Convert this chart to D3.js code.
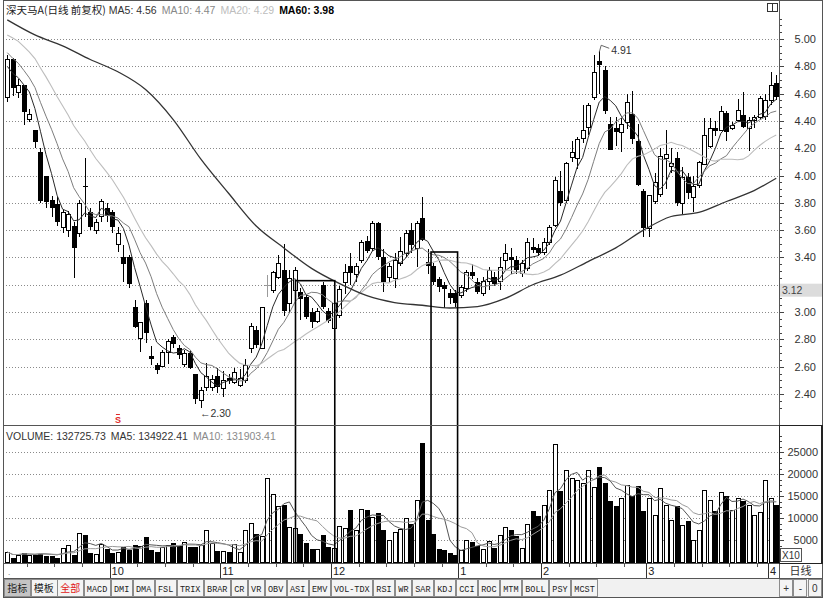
<!DOCTYPE html>
<html><head><meta charset="utf-8">
<script src="https://cdn.jsdelivr.net/npm/d3@7/dist/d3.min.js"></script>
<style>body{margin:0;background:#fff}svg{display:block}</style>
</head><body><svg id="c" width="825" height="598"></svg>
<script>
// ---------- DATA ----------
const opens = [4.57,4.85,4.61,4.66,4.41,4.33,4.17,4.00,3.82,3.79,
 3.62,3.60,3.63,3.58,3.92,3.73,3.60,3.70,3.76,3.73,
 3.50,3.40,3.40,3.04,2.81,3.07,2.68,2.61,2.61,2.71,
 2.82,2.74,2.62,2.70,2.55,2.36,2.45,2.45,2.53,2.44,
 2.52,2.49,2.47,2.50,2.74,2.87,2.74,3.20,3.16,3.26,
 3.31,3.07,3.16,3.15,3.11,3.00,2.94,3.20,3.01,2.89,
 2.98,3.22,3.34,3.28,3.38,3.52,3.47,3.65,3.40,3.26,
 3.25,3.36,3.43,3.60,3.47,3.69,3.37,3.34,3.24,3.20,
 3.14,3.14,3.12,3.17,3.29,3.22,3.14,3.23,3.26,3.23,
 3.38,3.40,3.38,3.29,3.32,3.48,3.47,3.44,3.51,3.64,
 3.89,3.82,4.13,4.13,4.27,4.36,4.58,4.84,4.77,4.38,
 4.35,4.32,4.39,4.45,4.25,3.89,3.62,3.81,3.86,4.13,
 4.07,4.13,3.80,3.99,3.84,3.93,4.09,4.22,4.35,4.33,
 4.46,4.35,4.41,4.44,4.35,4.41,4.43,4.43,4.55,4.68];
const highs = [4.88,4.86,4.71,4.66,4.49,4.33,4.20,4.00,3.85,3.84,
 3.75,3.74,3.66,3.82,4.13,3.76,3.68,3.83,3.80,3.75,
 3.62,3.49,3.42,3.09,2.93,3.09,2.75,2.63,2.72,2.80,
 2.83,2.76,2.72,2.72,2.55,2.45,2.63,2.54,2.59,2.57,
 2.55,2.59,2.58,2.66,2.92,2.90,3.04,3.27,3.30,3.42,
 3.50,3.31,3.33,3.18,3.13,3.03,3.03,3.22,3.03,3.08,
 3.19,3.35,3.43,3.36,3.53,3.56,3.67,3.66,3.46,3.36,
 3.43,3.55,3.60,3.65,3.67,3.84,3.46,3.36,3.26,3.22,
 3.17,3.16,3.20,3.31,3.35,3.25,3.26,3.33,3.29,3.40,
 3.50,3.47,3.41,3.38,3.54,3.54,3.50,3.54,3.64,3.99,
 4.03,4.10,4.25,4.28,4.52,4.53,4.88,4.91,4.80,4.43,
 4.43,4.42,4.60,4.62,4.38,3.90,3.86,4.02,4.20,4.33,
 4.20,4.17,4.06,4.02,4.00,4.11,4.42,4.42,4.40,4.51,
 4.47,4.39,4.56,4.61,4.43,4.44,4.58,4.60,4.76,4.74];
const lows = [4.54,4.58,4.57,4.37,4.39,4.20,3.80,3.76,3.70,3.63,
 3.58,3.55,3.25,3.55,3.70,3.60,3.57,3.66,3.66,3.58,
 3.44,3.22,3.18,2.88,2.71,2.77,2.61,2.55,2.60,2.62,
 2.74,2.66,2.60,2.58,2.33,2.30,2.42,2.42,2.41,2.38,
 2.47,2.47,2.45,2.48,2.70,2.74,2.73,3.11,3.14,3.24,
 2.97,2.99,3.05,2.94,2.95,2.88,2.92,3.02,2.92,2.88,
 2.96,3.13,3.20,3.22,3.36,3.43,3.45,3.38,3.15,3.22,
 3.18,3.34,3.40,3.43,3.33,3.52,3.28,3.20,3.15,3.03,
 3.06,3.04,3.10,3.15,3.24,3.13,3.12,3.16,3.19,3.16,
 3.30,3.28,3.28,3.26,3.30,3.43,3.41,3.42,3.49,3.62,
 3.78,3.80,4.10,4.05,4.24,4.30,4.55,4.60,4.45,4.19,
 4.22,4.17,4.34,4.23,3.92,3.55,3.55,3.79,3.84,3.90,
 4.02,3.78,3.72,3.83,3.73,3.91,4.08,4.20,4.29,4.33,
 4.25,4.33,4.40,4.35,4.18,4.35,4.41,4.41,4.52,4.55];
const closes = [4.85,4.64,4.66,4.46,4.45,4.24,3.81,3.81,3.76,3.66,
 3.73,3.72,3.47,3.80,3.91,3.62,3.66,3.81,3.70,3.62,
 3.58,3.35,3.20,2.89,2.93,2.85,2.66,2.57,2.71,2.79,
 2.77,2.69,2.70,2.59,2.37,2.43,2.53,2.51,2.45,2.50,
 2.50,2.56,2.52,2.61,2.90,2.76,3.04,3.20,3.29,3.36,
 3.01,3.25,3.31,3.10,2.96,2.93,3.01,3.04,2.94,3.07,
 3.17,3.29,3.29,3.34,3.51,3.45,3.65,3.40,3.22,3.34,
 3.38,3.45,3.58,3.49,3.65,3.53,3.34,3.22,3.18,3.17,
 3.10,3.07,3.18,3.29,3.26,3.15,3.23,3.31,3.21,3.33,
 3.43,3.38,3.31,3.36,3.51,3.46,3.43,3.51,3.62,3.97,
 3.80,4.09,4.17,4.27,4.33,4.52,4.76,4.81,4.47,4.19,
 4.32,4.38,4.54,4.27,3.93,3.62,3.86,3.95,4.14,4.16,
 4.09,3.80,3.99,3.87,3.92,4.10,4.30,4.35,4.33,4.47,
 4.32,4.37,4.48,4.35,4.41,4.43,4.57,4.55,4.66,4.58];
// closes before the first visible day (used only to warm up MA5/10/20)
const priorCloses = [5.10,5.15,5.22,5.25,5.20,5.18,5.12,5.16,5.14,5.08,
 5.06,5.02,4.98,5.00,4.94,4.90,4.82,4.72,4.71];
// volume, in axis units (x10 shares)
const volumes = [2270,1140,1670,2270,1670,1820,1970,1520,1670,1140,
 3180,3790,1890,6670,6290,2270,1740,4090,3180,2270,
 2270,3640,3030,4020,3560,5830,3030,2500,3410,3790,
 4550,3790,4550,3640,3640,3940,7350,4390,2650,2500,
 2500,4090,2270,7200,8940,6670,5910,19090,15380,12730,
 13100,7950,7800,6670,4550,3260,2880,6290,3640,3260,
 8110,7800,11970,7350,11970,11970,10230,11360,7420,5080,
 6820,7580,10000,8940,14170,27270,9700,6590,3260,3030,
 2270,1890,2650,5080,4770,3940,3030,4770,3410,6060,
 7950,7580,6210,3260,8710,11800,10700,13000,16400,26800,
 16400,20900,19100,18600,18000,20900,17000,21800,18200,14100,
 13000,14500,17500,15200,17500,11800,14500,10700,16800,13000,
 9500,13000,8400,9500,5000,7300,16400,14100,11800,15900,
 15200,11800,14500,14100,13000,10700,11400,18600,14500,13273];
// MA60 at these day indices
const ma60Idx  = [0,5,10,15,20,25,30,35,40,45,50,55,60,65,70,75,80,85,90,95,100,105,110,115,120,125,130,135,139];
const ma60Vals = [5.14,5.03,4.95,4.85,4.76,4.63,4.41,4.12,3.87,3.63,3.47,3.32,3.21,3.12,3.07,3.05,3.03,3.04,3.10,3.20,3.27,3.37,3.47,3.60,3.70,3.73,3.81,3.89,3.98];
const priceTicks = [2.40,2.60,2.80,3.00,3.20,3.40,3.60,3.80,4.00,4.20,4.40,4.60,4.80,5.00];
const priceLabelTicks = [2.40,2.60,2.80,3.00,3.40,3.60,3.80,4.00,4.20,4.40,4.60,4.80,5.00];
const volTicks = [5000,10000,15000,20000,25000];
const monthLabels = ["10","11","12","1","2","3","4"];
const monthStarts = [19,39,59,82,97,116,138];
const headerTitle = "深天马A(日线 前复权)";
const headerMA = [["MA5",4.56],["MA10",4.47],["MA20",4.29],["MA60",3.98]];
const volHeader = [["VOLUME",132725.73],["MA5",134922.41],["MA10",131903.41]];
const currentPrice = 3.12;
const signalIdx = 20;
const boxFrom = [52.1, 76.6], boxTo = [59.2, 81.4], boxTop = [3.23, 3.44];
const tabs = ["指标","模板","全部","MACD","DMI","DMA","FSL","TRIX","BRAR","CR","VR","OBV","ASI","EMV","VOL-TDX","RSI","WR","SAR","KDJ","CCI","ROC","MTM","BOLL","PSY","MCST"];

// ---------- LAYOUT ----------
const FONT = "'Liberation Sans', Arial, sans-serif";
const CJK = "'Noto Sans CJK SC', sans-serif";
const n = closes.length;
const PL = 4, PR = 779, PT = 1, PB = 425, VB = 563, XB = 578, TB = 597, AR = 822;
const xl = d3.scaleLinear().domain([-0.5, n - 0.5]).range([4.5, PR]);
const y = d3.scaleLinear().domain([2.40, 5.00]).range([394, 39]);
const yv = d3.scaleLinear().domain([0, 25000]).range([562, 452]);

const svg = d3.select('#c');
svg.append('rect').attr('width', 825).attr('height', 598).attr('fill', '#fff');
const defs = svg.append('defs');
defs.append('clipPath').attr('id', 'cp').append('rect').attr('x', PL + 1).attr('y', PT + 1).attr('width', PR - PL - 1).attr('height', PB - PT - 1);
defs.append('clipPath').attr('id', 'cv').append('rect').attr('x', PL + 1).attr('y', PB + 1).attr('width', PR - PL - 1).attr('height', VB - PB - 1);

// gridlines
const grid = svg.append('g').attr('stroke', '#8a8a8a').attr('stroke-dasharray', '1,2').attr('shape-rendering', 'crispEdges');
grid.selectAll('line.p').data(priceTicks).join('line').attr('class', 'p')
  .attr('x1', PL + 2).attr('x2', PR).attr('y1', d => Math.round(y(d)) + 0.5).attr('y2', d => Math.round(y(d)) + 0.5);
grid.selectAll('line.v').data(volTicks).join('line').attr('class', 'v')
  .attr('x1', PL + 2).attr('x2', PR).attr('y1', d => Math.round(yv(d)) + 0.5).attr('y2', d => Math.round(yv(d)) + 0.5);

// candles
const idx = d3.range(n);
const up = i => closes[i] > opens[i];
const flat = i => closes[i] === opens[i];
const px = i => Math.round(xl(i));
const gC = svg.append('g').attr('clip-path', 'url(#cp)').attr('shape-rendering', 'crispEdges');
const cg = gC.selectAll('g').data(idx).join('g');
cg.append('line').attr('x1', i => px(i) + 0.5).attr('x2', i => px(i) + 0.5)
  .attr('y1', i => y(highs[i])).attr('y2', i => y(lows[i]))
  .attr('stroke', i => flat(i) ? '#9a9a9a' : '#000');
cg.append('rect')
  .attr('x', i => up(i) ? px(i) - 1.5 : px(i) - 2)
  .attr('width', i => up(i) ? 4 : 5)
  .attr('y', i => Math.round(y(Math.max(opens[i], closes[i]))) + (up(i) ? 0.5 : 0))
  .attr('height', i => Math.max(1, Math.round(Math.abs(y(opens[i]) - y(closes[i])))))
  .attr('fill', i => flat(i) ? '#9a9a9a' : (up(i) ? '#fff' : '#000'))
  .attr('stroke', i => up(i) ? '#000' : 'none');

// moving averages
const allC = priorCloses.concat(closes);
const P = priorCloses.length;
const maOf = (arr, off, k, i) => d3.mean(arr.slice(Math.max(0, off + i - k + 1), off + i + 1));
const lineP = d3.line().x(d => xl(d[0])).y(d => y(d[1]));
const gM = svg.append('g').attr('clip-path', 'url(#cp)').attr('fill', 'none');
[[5, '#2a2a2a', 1], [10, '#7d7d7d', 1], [20, '#bdbdbd', 1.1]].forEach(([k, col, w]) => {
  gM.append('path').attr('d', lineP(idx.map(i => [i, maOf(allC, P, k, i)])))
    .attr('stroke', col).attr('stroke-width', w);
});
gM.append('path').attr('d', lineP.curve(d3.curveMonotoneX)(ma60Idx.map((d, j) => [d, ma60Vals[j]])))
  .attr('stroke', '#333').attr('stroke-width', 1.3);

// volume bars
const gV = svg.append('g').attr('clip-path', 'url(#cv)').attr('shape-rendering', 'crispEdges');
gV.selectAll('rect').data(idx).join('rect')
  .attr('x', i => closes[i] >= opens[i] ? px(i) - 1.5 : px(i) - 2)
  .attr('width', i => closes[i] >= opens[i] ? 4 : 5)
  .attr('y', i => Math.round(yv(volumes[i])) + 0.5)
  .attr('height', i => Math.max(1, yv(0) - Math.round(yv(volumes[i]))))
  .attr('fill', i => closes[i] >= opens[i] ? '#fff' : '#000')
  .attr('stroke', i => closes[i] >= opens[i] ? '#000' : 'none');
const lineV = d3.line().x(d => xl(d[0])).y(d => yv(d[1]));
const gVM = svg.append('g').attr('clip-path', 'url(#cv)').attr('fill', 'none');
[[5, '#555', 1], [10, '#9a9a9a', 1]].forEach(([k, col, w]) => {
  gVM.append('path').attr('d', lineV(idx.map(i => [i, maOf(volumes, 0, k, i)])))
    .attr('stroke', col).attr('stroke-width', w);
});

// annotation boxes
svg.append('g').attr('fill', 'none').attr('stroke', '#000').attr('stroke-width', 1.6)
  .selectAll('rect').data(boxFrom).join('rect')
  .attr('x', (d, j) => xl(d)).attr('width', (d, j) => xl(boxTo[j]) - xl(d))
  .attr('y', (d, j) => y(boxTop[j])).attr('height', (d, j) => VB - y(boxTop[j]));

// high / low notes
const hi = d3.maxIndex(highs), lo = d3.minIndex(lows);
const hx = xl(hi), hy = y(highs[hi]);
svg.append('path').attr('d', `M${hx},${hy + 1}L${hx + 2},${hy - 6}L${hx + 10},${hy - 3}`)
  .attr('fill', 'none').attr('stroke', '#555').attr('stroke-width', 0.9);
svg.append('text').attr('x', hx + 12).attr('y', hy + 3).attr('font-family', FONT).attr('font-size', 10.5)
  .attr('fill', '#333').text(d3.format('.2f')(highs[hi]));
svg.append('text').attr('x', xl(lo) - 1).attr('y', y(lows[lo]) + 9).attr('font-family', FONT).attr('font-size', 10.5)
  .attr('fill', '#333').text('←' + d3.format('.2f')(lows[lo]));
// signal mark
svg.append('text').attr('x', xl(signalIdx)).attr('y', 423).attr('text-anchor', 'middle')
  .attr('font-family', FONT).attr('font-size', 9).attr('font-weight', 'bold').attr('fill', '#e02828').text('S');
svg.append('line').attr('x1', xl(signalIdx) - 2).attr('x2', xl(signalIdx) + 2).attr('y1', 414.5).attr('y2', 414.5)
  .attr('stroke', '#e02828');

// header
const hdr = svg.append('text').attr('x', 6).attr('y', 14).attr('font-family', FONT).attr('font-size', 10.5);
hdr.append('tspan').attr('font-family', CJK).attr('fill', '#222').text(headerTitle);
const maCols = ['#333', '#888', '#bdbdbd', '#000'];
headerMA.forEach(([k, v], j) => {
  hdr.append('tspan').attr('dx', j === 0 ? 3 : 5).attr('fill', maCols[j])
    .attr('font-weight', j === 3 ? 'bold' : 'normal').text(`${k}: ${d3.format('.2f')(v)}`);
});
const vh = svg.append('text').attr('x', 6).attr('y', 440).attr('font-family', FONT).attr('font-size', 10.5);
volHeader.forEach(([k, v], j) => {
  vh.append('tspan').attr('dx', j === 0 ? 0 : 5).attr('fill', j === 2 ? '#8a8a8a' : '#333')
    .text(`${k}: ${d3.format('.2f')(v)}`);
});

// right axis: labels + ticks
const axText = g => g.call(s => s.select('.domain').remove()).selectAll('text')
  .attr('font-family', FONT).attr('font-size', 11).attr('fill', '#333');
svg.append('g').attr('transform', 'translate(816,0)')
  .call(d3.axisLeft(y).tickValues(priceLabelTicks).tickFormat(d3.format('.2f')).tickSize(0).tickPadding(0)).call(axText);
svg.append('g').attr('transform', 'translate(818,0)')
  .call(d3.axisLeft(yv).tickValues(volTicks).tickFormat(d3.format('d')).tickSize(0).tickPadding(0)).call(axText);
const tickG = (scale, vals, size) => svg.append('g').attr('transform', `translate(${PR},0)`).attr('shape-rendering', 'crispEdges')
  .call(d3.axisRight(scale).tickValues(vals).tickSize(size).tickFormat(''))
  .call(g => { g.select('.domain').remove(); g.selectAll('line').attr('stroke', '#444'); });
tickG(y, priceTicks, 5);
tickG(y, d3.range(2.30, 5.16, 0.05).filter(v => Math.abs(Math.round(v * 5) - v * 5) > 0.01), 3);
tickG(yv, volTicks, 5);
tickG(yv, d3.range(1250, 30000, 1250).filter(v => v % 5000 !== 0), 3);

// current price marker
svg.append('rect').attr('x', PR + 1).attr('y', y(currentPrice) - 12).attr('width', AR - PR - 1).attr('height', 13).attr('fill', '#dcdcdc');
svg.append('text').attr('x', PR + 3).attr('y', y(currentPrice) - 2).attr('font-family', FONT).attr('font-size', 10.5).attr('fill', '#444').text(d3.format('.2f')(currentPrice));
// X10
svg.append('rect').attr('x', PR + 1.5).attr('y', 548.5).attr('width', 21).attr('height', 13).attr('fill', '#fff').attr('stroke', '#555');
svg.append('text').attr('x', PR + 3).attr('y', 559).attr('font-family', FONT).attr('font-size', 10).attr('fill', '#333').text('X10');
// top-right icon
svg.append('rect').attr('x', 767.5).attr('y', 3.5).attr('width', 10).attr('height', 8).attr('fill', '#fff').attr('stroke', '#333');
svg.append('line').attr('x1', 772.5).attr('x2', 772.5).attr('y1', 3.5).attr('y2', 11.5).attr('stroke', '#333');

// frame
const fr = svg.append('g').attr('stroke', '#555').attr('shape-rendering', 'crispEdges').attr('fill', 'none');
fr.append('rect').attr('x', PL - 0.5).attr('y', 0.5).attr('width', AR - PL + 0.5).attr('height', TB - 0.5);
fr.append('line').attr('x1', PR + 0.5).attr('x2', PR + 0.5).attr('y1', 0).attr('y2', TB);
[PB, VB, XB].forEach(v => fr.append('line').attr('x1', PL).attr('x2', AR).attr('y1', v + 0.5).attr('y2', v + 0.5));
fr.append('rect').attr('x', PR + 0.5).attr('y', PB + 0.5).attr('width', AR - PR - 0.5).attr('height', VB - PB).attr('stroke', '#222').attr('stroke-width', 1.2);

// x axis row
const xr = svg.append('g').attr('shape-rendering', 'crispEdges');
xr.selectAll('line.m').data(monthStarts).join('line').attr('class', 'm')
  .attr('x1', d => Math.round(xl(d - 0.5)) + 0.5).attr('x2', d => Math.round(xl(d - 0.5)) + 0.5)
  .attr('y1', VB).attr('y2', XB).attr('stroke', '#333');
const weekTicks = [];
monthStarts.forEach((s, k) => { const e = k + 1 < monthStarts.length ? monthStarts[k + 1] : n; for (let j = s + 5; j < e - 1; j += 5) weekTicks.push(j); });
const firstWeeks = []; for (let j = monthStarts[0] - 5; j > 0; j -= 5) firstWeeks.push(j);
xr.selectAll('line.w').data(weekTicks.concat(firstWeeks)).join('line').attr('class', 'w')
  .attr('x1', d => Math.round(xl(d - 0.5)) + 0.5).attr('x2', d => Math.round(xl(d - 0.5)) + 0.5)
  .attr('y1', VB).attr('y2', VB + 4).attr('stroke', '#555');
xr.selectAll('text').data(monthLabels).join('text')
  .attr('x', (d, k) => xl(monthStarts[k] - 0.5) + 2).attr('y', 575)
  .attr('font-family', FONT).attr('font-size', 11).attr('fill', '#222').text(d => d);
svg.append('text').attr('x', 8).attr('y', 575).attr('font-size', 9).attr('fill', '#666').text('.');
svg.append('text').attr('x', (PR + AR) / 2).attr('y', 575).attr('text-anchor', 'middle').attr('font-family', CJK)
  .attr('font-size', 11).attr('fill', '#333').text('日线');

// tabs row
const tr = svg.append('g');
tr.append('rect').attr('x', PL).attr('y', XB + 1).attr('width', AR - PL).attr('height', TB - XB - 1).attr('fill', '#f1f1f1');
let tx = PL;
const isCJK = s => /[\u4e00-\u9fff]/.test(s);
tabs.forEach((t, j) => {
  const w = isCJK(t) ? 26.5 : t.length * 5.1 + 6.7;
  tr.append('rect').attr('x', Math.round(tx) + 0.5).attr('y', XB + 1.5).attr('width', Math.round(w) - 1).attr('height', TB - XB - 2.5)
    .attr('fill', j === 0 ? '#c4c4c4' : '#f4f4f4').attr('stroke', '#8c8c8c').attr('shape-rendering', 'crispEdges');
  tr.append('text').attr('x', tx + w / 2).attr('y', 591.5).attr('text-anchor', 'middle')
    .attr('font-family', isCJK(t) ? CJK : "'Liberation Mono', monospace")
    .attr('font-size', isCJK(t) ? 10 : 8.5).attr('fill', j === 2 ? '#e01818' : '#222').text(t);
  tx += w;
});
['+', '-', '0'].forEach((t, j) => {
  const w = (AR - PR) / 3, x0 = PR + j * w;
  tr.append('rect').attr('x', Math.round(x0) + 0.5).attr('y', XB + 1.5).attr('width', Math.round(w) - 1).attr('height', TB - XB - 2.5)
    .attr('fill', '#f4f4f4').attr('stroke', '#8c8c8c').attr('shape-rendering', 'crispEdges');
  tr.append('text').attr('x', x0 + w / 2).attr('y', 591.5).attr('text-anchor', 'middle').attr('font-family', FONT)
    .attr('font-size', 10).attr('fill', '#333').text(t);
});
</script></body></html>
